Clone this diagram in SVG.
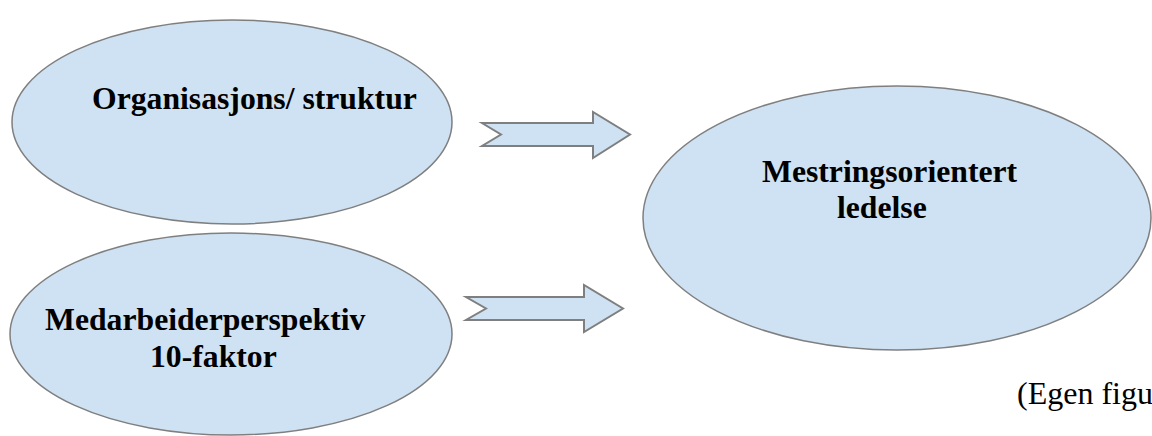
<svg xmlns="http://www.w3.org/2000/svg" width="1152" height="436" viewBox="0 0 1152 436">
<style>
.node{fill:#cfe2f3;stroke:#7f7f7f;stroke-width:1.5}
.arr{fill:#cfe2f3;stroke:#7f7f7f;stroke-width:2;stroke-linejoin:miter}
.lbl{font-family:"Liberation Serif","Times New Roman",serif;font-weight:bold;font-size:31.7px;fill:#000}
.note{font-family:"Liberation Serif","Times New Roman",serif;font-size:32px;fill:#000}
</style>
<rect width="1152" height="436" fill="#fff"/>
<g id="node-organisasjon">
<ellipse class="node" cx="232" cy="122" rx="220" ry="102"/>
<text class="lbl" x="92" y="109">Organisasjons/ struktur</text>
</g>
<g id="node-medarbeider">
<ellipse class="node" cx="231" cy="334" rx="221" ry="101"/>
<text class="lbl" x="45" y="330">Medarbeiderperspektiv</text>
<text class="lbl" x="150" y="367">10-faktor</text>
</g>
<g id="node-mestring">
<ellipse class="node" cx="897" cy="218" rx="254" ry="132"/>
<text class="lbl" x="762" y="182">Mestringsorientert</text>
<text class="lbl" x="837" y="218">ledelse</text>
</g>
<g id="connectors">
<polygon class="arr" points="482,123 593,123 593,112 630,134.5 593,158 593,146 482,146 501,134.5"/>
<polygon class="arr" points="466,297 584,297 584,285 623,308.5 584,332 584,320 466,320 486,308.5"/>
</g>
<text class="note" x="1017" y="404">(Egen figur</text>
</svg>
